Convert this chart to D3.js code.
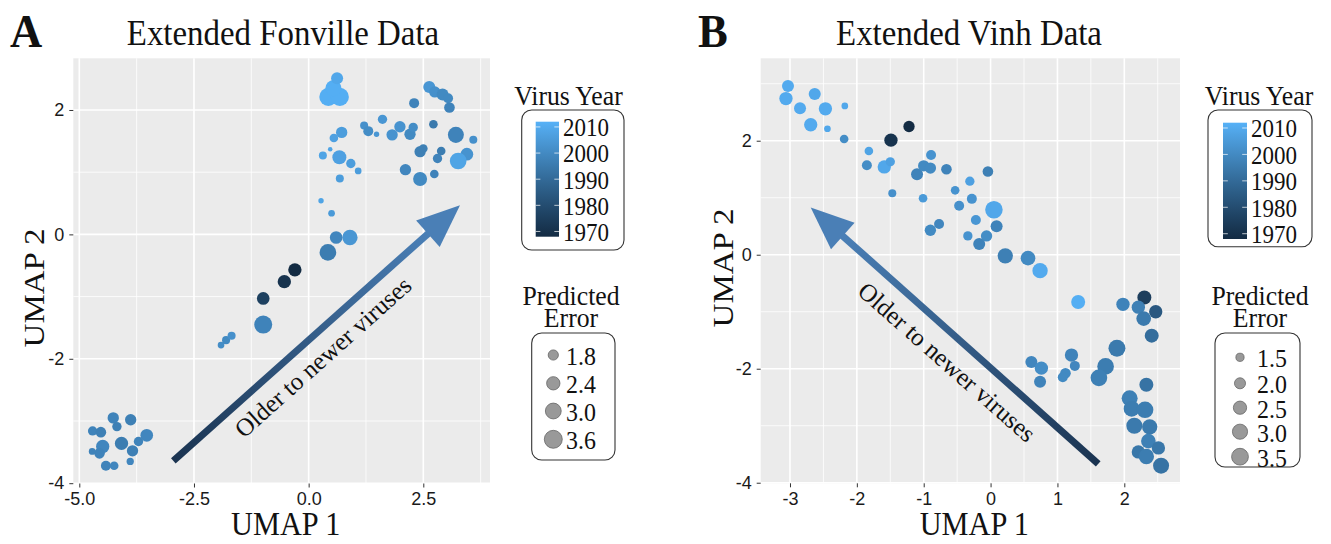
<!DOCTYPE html>
<html><head><meta charset="utf-8">
<script src="https://cdn.jsdelivr.net/npm/d3@7"></script>
<style>body{margin:0;background:#fff}svg{display:block}</style>
</head><body><svg id="c" width="1331" height="544"></svg>
<script>
// ---------- DATA: Extended Fonville ----------
const fonX = [-4.71,-4.53,-4.26,-4.18,-3.88,-3.53,-3.71,-4.08,-4.49,-4.56,-4.72,-3.84,-3.89,-4.42,-4.24,
  -1.91,-1.80,-1.68,-0.99,-0.99,-0.53,-0.30,0.42,0.60,0.90,0.50,0.27,
  0.43,0.68,0.54,0.62,0.72,0.55,0.47,0.31,0.67,0.92,1.08,0.68,1.21,1.30,1.48,1.61,1.82,1.99,2.21,2.28,2.30,
  2.63,2.75,2.92,3.04,3.07,2.72,3.21,3.59,2.43,2.50,2.89,2.81,3.45,3.26,2.11,2.43,2.74];
const fonY = [-3.16,-3.18,-2.95,-3.09,-2.98,-3.23,-3.33,-3.36,-3.41,-3.52,-3.49,-3.48,-3.65,-3.72,-3.72,
  -1.78,-1.70,-1.63,-1.45,-1.03,-0.76,-0.57,-0.29,-0.05,-0.05,0.34,0.54,
  2.21,2.21,2.35,2.51,1.64,1.55,1.37,1.27,1.24,1.14,1.02,0.90,1.75,1.66,1.61,1.85,1.60,1.73,1.61,1.72,2.11,
  2.37,2.29,2.25,2.19,2.04,1.77,1.60,1.52,1.33,1.38,1.34,1.22,1.29,1.18,1.04,0.89,0.97];
const fonYear = [1998,1997,1998,1997,1997,1999,1998,1996,1999,1998,1998,1997,1999,1998,1999,
  2001,2000,2002,1998,1976,1971,1968,1996,1999,2004,2005,2008,
  2011,2011,2011,2009,2006,2007,2008,2008,2007,2006,2006,2006,2002,2001,2004,2004,2003,2003,2000,2001,1998,
  2004,2002,2000,2000,1998,1995,1998,2002,1997,1997,1996,1998,2003,2008,1999,2000,1998];
const fonErr = [1.79,2.02,2.15,1.79,2.15,2.43,1.79,2.58,2.58,2.02,1.42,2.15,1.49,1.90,1.68,
  1.42,1.59,1.59,3.86,2.43,2.58,2.58,3.45,2.43,3.08,1.42,1.28,
  3.90,3.90,3.27,2.29,2.15,1.68,1.21,1.59,2.74,1.79,1.42,1.59,1.59,1.90,1.28,1.79,2.15,2.15,2.15,1.79,1.90,
  2.29,2.15,2.29,1.90,2.02,1.68,3.27,1.59,2.15,1.68,1.68,1.79,2.43,3.45,2.15,2.74,1.68];
const fonXTicks = [-5, -2.5, 0, 2.5];
const fonXLabels = ["-5.0", "-2.5", "0.0", "2.5"];
const fonYTicks = [-4, -2, 0, 2];
const fonYLabels = ["-4", "-2", "0", "2"];
const fonSizeBreaks = [1.8, 2.4, 3.0, 3.6];
const fonArrow = [[-2.95, -3.64], [3.30, 0.47]];

// ---------- DATA: Extended Vinh ----------
const vinhX = [-3.03,-3.06,-2.85,-2.63,-2.47,-2.18,-2.69,-2.44,-2.19,-1.49,-1.22,-1.82,-1.85,-1.59,-1.50,-1.47,
  -1.10,-1.00,-0.90,-0.89,-0.66,-1.01,-0.90,-0.77,-0.53,-0.31,-0.04,-0.28,-0.47,-0.22,0.05,0.09,-0.34,-0.06,-0.17,
  0.22,0.56,0.74,1.31,1.98,2.30,2.21,2.47,2.29,2.41,1.89,1.72,1.62,1.21,1.26,1.12,1.08,0.61,0.76,0.74,
  2.33,2.08,2.11,2.31,2.15,2.38,2.36,2.51,2.21,2.33,2.55];
const vinhY = [2.96,2.74,2.57,2.82,2.56,2.61,2.28,2.21,2.03,2.01,2.25,1.82,1.57,1.54,1.63,1.08,
  1.41,1.56,1.52,1.75,1.50,0.99,0.43,0.54,1.13,1.29,1.46,0.98,0.86,0.61,0.79,0.50,0.33,0.33,0.19,
  -0.02,-0.06,-0.28,-0.83,-0.87,-0.75,-0.92,-1.00,-1.12,-1.42,-1.64,-1.96,-2.16,-1.76,-1.95,-2.08,-2.15,-1.88,-1.99,-2.23,
  -2.28,-2.52,-2.70,-2.72,-3.00,-3.02,-3.27,-3.39,-3.46,-3.54,-3.70];
const vinhYear = [2010,2010,2010,2009,2010,2009,2010,2009,2001,1971,1968,2008,2001,2009,2007,2002,
  1998,2000,2000,2003,1998,2005,2000,1999,2003,2007,1997,2003,2002,2004,2009,1998,2003,2001,1998,
  1997,2000,2010,2011,1998,1975,1997,1984,1995,1991,1995,1996,1997,1998,1999,2000,2000,1999,2001,1998,
  1993,1997,1996,1996,1995,1995,1997,1994,1994,1996,1993];
const vinhErr = [2.39,2.72,2.39,2.39,2.72,1.40,2.72,1.40,1.70,2.72,2.23,1.70,1.95,2.72,1.82,1.59,
  2.39,2.23,2.23,1.95,2.08,1.70,2.23,1.95,1.70,1.82,2.08,1.95,1.95,1.95,4.00,2.39,1.82,2.23,2.39,
  3.29,3.09,3.29,2.90,2.72,2.90,2.72,2.72,3.09,2.90,3.80,3.71,3.71,2.72,1.95,2.08,1.95,2.39,2.72,2.39,
  2.90,3.50,3.50,3.71,3.50,3.29,3.09,2.72,2.72,3.29,3.50];
const vinhXTicks = [-3, -2, -1, 0, 1, 2];
const vinhXLabels = ["-3", "-2", "-1", "0", "1", "2"];
const vinhYTicks = [-4, -2, 0, 2];
const vinhYLabels = ["-4", "-2", "0", "2"];
const vinhSizeBreaks = [1.5, 2.0, 2.5, 3.0, 3.5];
const vinhArrow = [[1.61, -3.67], [-2.69, 0.83]];

const yearTicks = [1970, 1980, 1990, 2000, 2010];
const yearDomain = [1968, 2012];

// ---------- DRAWING ----------
const svg = d3.select("#c");
const SERIF = "'Liberation Serif','Times New Roman',serif";
const SANS = "'Liberation Sans',Arial,sans-serif";
const color = d3.scaleLinear().domain(yearDomain).range(["#132B43", "#56B1F7"]).interpolate(d3.interpolateLab);

function label(parent, x, y, str, o) {
  const sx = o.sx ?? 0.92, rot = o.rot || 0;
  const sc = rot === -90 ? `scale(1,${sx})` : `scale(${sx},1)`;
  return parent.append("text")
    .attr("transform", `translate(${x},${y}) rotate(${rot}) ${sc}`)
    .attr("font-family", o.family || SERIF)
    .attr("font-size", o.size)
    .attr("font-weight", o.weight || "normal")
    .attr("text-anchor", o.anchor || "start")
    .attr("dominant-baseline", o.baseline || "auto")
    .attr("fill", o.fill || "#111")
    .text(str);
}

function minors(ticks, dom) {
  const step = ticks[1] - ticks[0];
  const out = [];
  for (let v = ticks[0] - step / 2; v <= dom[1]; v += step) if (v >= dom[0]) out.push(v);
  return out;
}

const panels = [
  { id: "A", title: "Extended Fonville Data", xs: fonX, ys: fonY, yr: fonYear, er: fonErr,
    pxr: [73.3, 490], pyr: [483.5, 58.3], xd: [-5.131, 3.954], yd: [-4.005, 2.831],
    xt: fonXTicks, xl: fonXLabels, yt: fonYTicks, yl: fonYLabels,
    sizeBreaks: fonSizeBreaks, sizeR2: [22.1, 73.6], arrow: fonArrow,
    letterX: 10, titleX: 283, ylabX: 44, ylabY: 288,
    textPos: [323, 357], textRot: -41.8,
    yearLeg: { bx: 521.7, by: 110, bw: 102.3, bh: 140, x: 535.7, y: 121.7, w: 23.3, h: 115, tx: 568.5 },
    sizeLeg: { bx: 531.7, by: 333, bw: 83.3, bh: 127, cx: 553.3, ys: [355, 383.3, 411, 439.3], lx: 566, tx: 571 } },
  { id: "B", title: "Extended Vinh Data", xs: vinhX, ys: vinhY, yr: vinhYear, er: vinhErr,
    pxr: [760.7, 1180], pyr: [483.3, 58.3], xd: [-3.438, 2.833], yd: [-4.01, 3.446],
    xt: vinhXTicks, xl: vinhXLabels, yt: vinhYTicks, yl: vinhYLabels,
    sizeBreaks: vinhSizeBreaks, sizeR2: [13.7, 64], arrow: vinhArrow,
    letterX: 698, titleX: 969, ylabX: 733, ylabY: 268,
    textPos: [947, 362], textRot: 41.4,
    yearLeg: { bx: 1208, by: 110, bw: 104, bh: 136.7, x: 1223, y: 122.7, w: 24, h: 116.3, tx: 1259 },
    sizeLeg: { bx: 1215, by: 333, bw: 85, bh: 134, cx: 1240, ys: [357.3, 383.3, 407.7, 431.7, 456.7], lx: 1257, tx: 1260 } }
];

const defs = svg.append("defs");

panels.forEach((p, pi) => {
  const g = svg.append("g");
  const x = d3.scaleLinear().domain(p.xd).range(p.pxr);
  const y = d3.scaleLinear().domain(p.yd).range(p.pyr);
  const r2 = d3.scaleLinear().domain([p.sizeBreaks[0], p.sizeBreaks[p.sizeBreaks.length - 1]]).range(p.sizeR2);
  const rad = v => Math.sqrt(Math.max(2, r2(v)));

  // panel background
  g.append("rect").attr("x", p.pxr[0]).attr("y", p.pyr[1])
    .attr("width", p.pxr[1] - p.pxr[0]).attr("height", p.pyr[0] - p.pyr[1]).attr("fill", "#EBEBEB");
  // grid
  const grid = g.append("g").attr("stroke", "#fff");
  minors(p.xt, p.xd).forEach(v => grid.append("line").attr("x1", x(v)).attr("x2", x(v)).attr("y1", p.pyr[0]).attr("y2", p.pyr[1]).attr("stroke-width", 0.8));
  minors(p.yt, p.yd).forEach(v => grid.append("line").attr("y1", y(v)).attr("y2", y(v)).attr("x1", p.pxr[0]).attr("x2", p.pxr[1]).attr("stroke-width", 0.8));
  p.xt.forEach(v => grid.append("line").attr("x1", x(v)).attr("x2", x(v)).attr("y1", p.pyr[0]).attr("y2", p.pyr[1]).attr("stroke-width", 1.6));
  p.yt.forEach(v => grid.append("line").attr("y1", y(v)).attr("y2", y(v)).attr("x1", p.pxr[0]).attr("x2", p.pxr[1]).attr("stroke-width", 1.6));

  // axes
  const ax = g.append("g").attr("transform", `translate(0,${p.pyr[0]})`)
    .call(d3.axisBottom(x).tickValues(p.xt).tickFormat((d, i) => p.xl[i]).tickSize(4).tickPadding(5));
  const ay = g.append("g").attr("transform", `translate(${p.pxr[0]},0)`)
    .call(d3.axisLeft(y).tickValues(p.yt).tickFormat((d, i) => p.yl[i]).tickSize(4).tickPadding(5));
  [ax, ay].forEach(a => {
    a.select(".domain").remove();
    a.selectAll("line").attr("stroke", "#333");
    a.selectAll("text").attr("font-family", SANS).attr("font-size", 18).attr("fill", "#1a1a1a");
  });

  // arrow
  const t0 = [x(p.arrow[0][0]), y(p.arrow[0][1])], t1 = [x(p.arrow[1][0]), y(p.arrow[1][1])];
  const dx = t1[0] - t0[0], dy = t1[1] - t0[1], len = Math.hypot(dx, dy);
  const u = [dx / len, dy / len], n = [-u[1], u[0]];
  const HL = 43, HW = 17.7;
  const b = [t1[0] - u[0] * HL, t1[1] - u[1] * HL];
  const gid = "ag" + pi;
  const grad = defs.append("linearGradient").attr("id", gid).attr("gradientUnits", "userSpaceOnUse")
    .attr("x1", t0[0]).attr("y1", t0[1]).attr("x2", b[0]).attr("y2", b[1]);
  grad.append("stop").attr("offset", 0).attr("stop-color", "#1a3350");
  grad.append("stop").attr("offset", 1).attr("stop-color", "#4a7fb6");
  g.append("line").attr("x1", t0[0]).attr("y1", t0[1]).attr("x2", b[0] + u[0] * 3).attr("y2", b[1] + u[1] * 3)
    .attr("stroke", `url(#${gid})`).attr("stroke-width", 7);
  g.append("path").attr("d", `M${t1[0]},${t1[1]}L${b[0] + n[0] * HW},${b[1] + n[1] * HW}L${b[0] - n[0] * HW},${b[1] - n[1] * HW}Z`)
    .attr("fill", "#4a7fb6");
  label(g, p.textPos[0], p.textPos[1], "Older to newer viruses",
    { size: 25, anchor: "middle", baseline: "central", rot: p.textRot, sx: 1 });

  // points
  g.append("g").selectAll("circle").data(p.xs.map((v, i) => i)).join("circle")
    .attr("cx", i => x(p.xs[i])).attr("cy", i => y(p.ys[i]))
    .attr("r", i => rad(p.er[i])).attr("fill", i => color(p.yr[i]));

  // titles
  label(svg, p.letterX, 47, p.id, { size: 47, weight: "bold", sx: 0.95 });
  label(svg, p.titleX, 45, p.title, { size: 35, anchor: "middle", sx: 0.94 });
  label(svg, (p.pxr[0] + p.pxr[1]) / 2 + 4, 535, "UMAP 1", { size: 33, anchor: "middle" });
  label(svg, p.ylabX, p.ylabY, "UMAP 2", { size: 33, anchor: "middle", rot: -90 });

  // year legend
  const L = p.yearLeg;
  label(svg, L.tx, 105, "Virus Year", { size: 28, anchor: "middle" });
  svg.append("rect").attr("x", L.bx).attr("y", L.by).attr("width", L.bw).attr("height", L.bh)
    .attr("rx", 10).attr("fill", "#fff").attr("stroke", "#333").attr("stroke-width", 1.1);
  const cbid = "cb" + pi;
  const cb = defs.append("linearGradient").attr("id", cbid).attr("x1", 0).attr("y1", 1).attr("x2", 0).attr("y2", 0);
  d3.range(0, 1.0001, 0.1).forEach(t => cb.append("stop").attr("offset", t)
    .attr("stop-color", color(yearDomain[0] + t * (yearDomain[1] - yearDomain[0]))));
  svg.append("rect").attr("x", L.x).attr("y", L.y).attr("width", L.w).attr("height", L.h).attr("fill", `url(#${cbid})`);
  const yb = d3.scaleLinear().domain(yearDomain).range([L.y + L.h, L.y]);
  yearTicks.forEach(v => {
    svg.append("line").attr("x1", L.x).attr("x2", L.x + L.w / 5).attr("y1", yb(v)).attr("y2", yb(v)).attr("stroke", "#fff").attr("stroke-opacity", 0.7);
    svg.append("line").attr("x1", L.x + L.w * 0.8).attr("x2", L.x + L.w).attr("y1", yb(v)).attr("y2", yb(v)).attr("stroke", "#fff").attr("stroke-opacity", 0.7);
    label(svg, L.x + L.w + 4, yb(v) + 1, String(v), { size: 25, baseline: "central" });
  });

  // size legend
  const S = p.sizeLeg;
  label(svg, S.tx, 305, "Predicted", { size: 28, anchor: "middle" });
  label(svg, S.tx, 327, "Error", { size: 28, anchor: "middle" });
  svg.append("rect").attr("x", S.bx).attr("y", S.by).attr("width", S.bw).attr("height", S.bh)
    .attr("rx", 10).attr("fill", "#fff").attr("stroke", "#333").attr("stroke-width", 1.1);
  p.sizeBreaks.forEach((v, i) => {
    svg.append("circle").attr("cx", S.cx).attr("cy", S.ys[i]).attr("r", rad(v) + 0.4)
      .attr("fill", "#999").attr("stroke", "#666").attr("stroke-width", 0.8);
    label(svg, S.lx, S.ys[i] + 1, v.toFixed(1), { size: 26, baseline: "central" });
  });
});
</script></body></html>
